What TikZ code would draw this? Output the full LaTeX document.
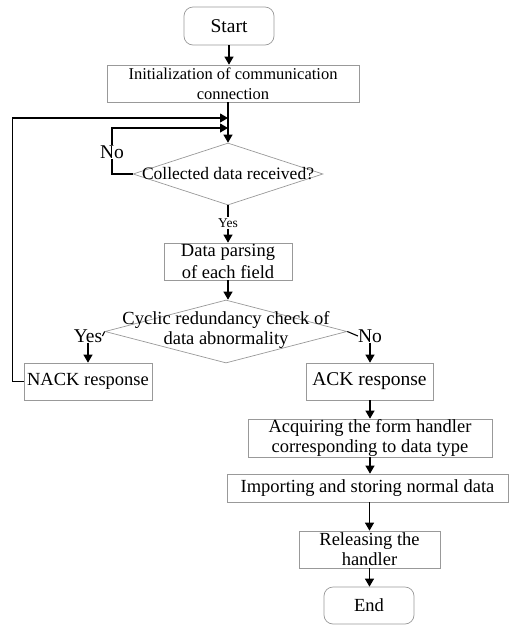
\documentclass[tikz,border=0pt]{standalone}
\usepackage{fontspec}
\setmainfont{Liberation Serif}
\usetikzlibrary{shapes.geometric,arrows.meta}
\begin{document}
\begin{tikzpicture}[x=1pt,y=-1pt,
  txt/.style={font=\fontsize{18.5}{21}\selectfont},
  boxed/.style={draw=black!40,line width=0.7pt,inner sep=0pt,align=center,txt},
  rbox/.style={boxed,rounded corners=9pt},
  dia/.style={draw=black!40,line width=0.7pt,diamond,inner sep=0pt},
  lab/.style={inner sep=0pt,txt},
  arr/.style={line width=1.1pt,-{Triangle[length=8pt,width=9pt]}},
  ln/.style={line width=1.1pt}]
\useasboundingbox (0,0) rectangle (509,625);
\node[rbox,minimum width=90pt,minimum height=38pt,font=\fontsize{19.5}{22}\selectfont] (start) at (229,26) {Start};
\node[boxed,minimum width=252pt,minimum height=37pt,font=\fontsize{16.5}{20}\selectfont] (init) at (233,83.5) {Initialization of communication\\connection};
\node[dia,minimum width=190pt,minimum height=62pt] (d1) at (228,174) {};
\node[lab,font=\fontsize{17.5}{20}\selectfont] (d1t) at (d1) {Collected data received?};
\node[boxed,minimum width=128pt,minimum height=37pt,font=\fontsize{18.5}{22}\selectfont] (dp) at (228,261.5) {Data parsing\\of each field};
\node[dia,minimum width=242pt,minimum height=63pt] (d2) at (226,331.5) {};
\node[lab,align=center,font=\fontsize{18.5}{20}\selectfont] (d2t) at (226,330) {Cyclic redundancy check of\\data abnormality};
\node[boxed,minimum width=128pt,minimum height=37pt] (nack) at (88,381.5) {NACK response};
\node[boxed,minimum width=127pt,minimum height=37pt,font=\fontsize{19.5}{22}\selectfont] (ack) at (369.5,381.5) {ACK response};
\node[boxed,minimum width=244pt,minimum height=38pt,font=\fontsize{18.5}{20}\selectfont] (acq) at (370,438) {Acquiring the form handler\\corresponding to data type};
\node[boxed,minimum width=281pt,minimum height=28pt] (imp) at (367.5,488) {Importing and storing normal data};
\node[boxed,minimum width=141pt,minimum height=37pt,font=\fontsize{18.5}{20}\selectfont] (rel) at (369.5,549.5) {Releasing the\\handler};
\node[rbox,minimum width=90pt,minimum height=37pt] (end) at (369,605.5) {End};
% labels
\node[lab,fill=white,inner sep=1pt,font=\fontsize{13.5}{15}\selectfont] (yes1) at (228,223) {Yes};
\node[lab,fill=white,inner sep=1pt,font=\fontsize{19.5}{22}\selectfont] (no1) at (112,152) {No};
\node[lab,font=\fontsize{19.5}{22}\selectfont] (yes2) at (88,336) {Yes};
\node[lab,font=\fontsize{19.5}{22}\selectfont] (no2) at (370,336) {No};
\coordinate (m0) at (228,118);
\coordinate (m1) at (228,128);
% connectors
\draw[arr] (start.south) -- (start.south |- init.north);
\draw[arr] (d1.north |- init.south) -- (d1.north);
\draw[arr] (d1.west) -| (no1.center) |- (m1);
\node[lab,fill=white,inner sep=1pt,font=\fontsize{19.5}{22}\selectfont] at (no1) {No};
\draw[arr] (nack.west) -- ++(-11,0) |- (m0);
\draw[ln] (d1.south) -- (yes1.north);
\draw[arr] (yes1.south) -- (dp.north);
\draw[arr] (dp.south) -- (dp.south |- d2.north);
\draw[ln] (d2.west) -- (yes2.east);
\draw[arr] (yes2.south) -- (nack.north);
\draw[ln] (d2.east) -- (no2.west);
\draw[arr] (no2.south) -- (no2.south |- ack.north);
\draw[arr] (acq.north |- ack.south) -- (acq.north);
\draw[arr] (acq.south) -- (acq.south |- imp.north);
\draw[arr] (rel.north |- imp.south) -- (rel.north);
\draw[arr] (rel.south) -- (rel.south |- end.north);
\end{tikzpicture}
\end{document}
